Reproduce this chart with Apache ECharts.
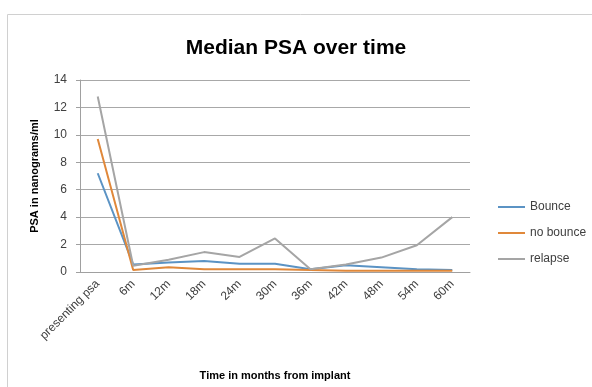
<!DOCTYPE html>
<html><head><meta charset="utf-8">
<script src="https://cdn.jsdelivr.net/npm/echarts@6/dist/echarts.min.js"></script>
<style>html,body{margin:0;padding:0;background:#fff}#c{width:592px;height:387px}</style>
</head><body><div id="c"></div>
<script>
const categories = ['presenting psa','6m','12m','18m','24m','30m','36m','42m','48m','54m','60m'];
const bounce   = [7.2, 0.55, 0.7, 0.8, 0.6, 0.6, 0.2, 0.5, 0.35, 0.2, 0.15];
const noBounce = [9.7, 0.15, 0.35, 0.2, 0.2, 0.2, 0.15, 0.1, 0.1, 0.1, 0.1];
const relapse  = [12.8, 0.45, 0.9, 1.45, 1.1, 2.45, 0.2, 0.55, 1.05, 1.95, 4.0];
const yTicks = [0, 14, 2];

const chart = echarts.init(document.getElementById('c'));
const font = 'Liberation Sans, Arial, sans-serif';
chart.setOption({
  animation: false,
  graphic: [{type:'rect', shape:{x:7.5,y:14.5,width:620,height:400}, style:{fill:'none',stroke:'#d0d0d0',lineWidth:1}, silent:true}],
  title: {text:'Median PSA over time', left: 291, top: 33, textAlign:'center',
    textStyle:{fontFamily:font, fontSize:21, fontWeight:'bold', color:'#000'}},
  grid: {left:80, right:122, top:80, bottom:115},
  legend: {orient:'vertical', left:493, top:196, itemGap:14, itemWidth:27, itemHeight:2,
    icon:'rect', textStyle:{fontFamily:font, fontSize:12, color:'#404040'},
    data:['Bounce','no bounce','relapse']},
  xAxis: {type:'category', data:categories, boundaryGap:true,
    name:'Time in months from implant', nameLocation:'middle', nameGap:98,
    nameTextStyle:{fontFamily:font, fontSize:11, fontWeight:'bold', color:'#000'},
    axisLine:{lineStyle:{color:'#a0a0a0'}}, axisTick:{show:false},
    axisLabel:{rotate:45, fontFamily:font, fontSize:12, color:'#404040', margin:10}},
  yAxis: {type:'value', min:yTicks[0], max:yTicks[1], interval:yTicks[2],
    name:'PSA in nanograms/ml', nameLocation:'middle', nameGap:40,
    nameTextStyle:{fontFamily:font, fontSize:11, fontWeight:'bold', color:'#000'},
    axisLine:{show:true, lineStyle:{color:'#a0a0a0'}}, axisTick:{show:true, length:4, lineStyle:{color:'#a0a0a0'}},
    axisLabel:{fontFamily:font, fontSize:12, color:'#404040', margin:13},
    splitLine:{lineStyle:{color:'#a8a8a8'}}},
  series: [
    {name:'Bounce', type:'line', data:bounce, symbol:'none', lineStyle:{width:2, color:'#5b93c4'}, itemStyle:{color:'#5b93c4'}},
    {name:'no bounce', type:'line', data:noBounce, symbol:'none', lineStyle:{width:2, color:'#e0883a'}, itemStyle:{color:'#e0883a'}},
    {name:'relapse', type:'line', data:relapse, symbol:'none', lineStyle:{width:2, color:'#a5a5a5'}, itemStyle:{color:'#a5a5a5'}}
  ]
});
</script></body></html>
